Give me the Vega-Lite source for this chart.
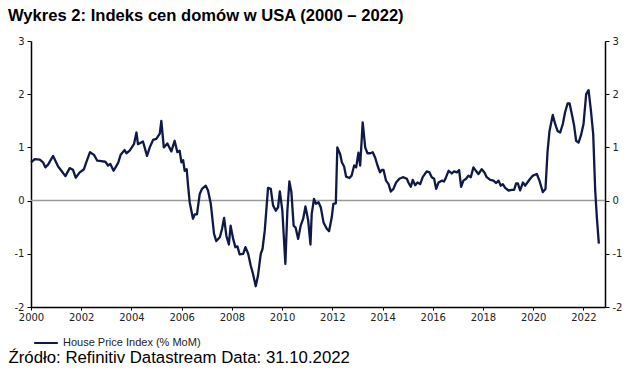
{
  "$schema": "https://vega.github.io/schema/vega-lite/v6.json",
  "width": 574,
  "height": 266,
  "autosize": {"type": "none"},
  "padding": {"left": 31, "top": 41, "right": 35, "bottom": 72},
  "background": "white",
  "config": {"view": {"stroke": null}},
  "title": {
    "text": "Wykres 2: Indeks cen domów w USA (2000 – 2022)",
    "anchor": "start",
    "frame": "group",
    "dx": -23,
    "offset": 11,
    "font": "Liberation Sans",
    "fontSize": 16.6,
    "fontWeight": "bold",
    "color": "#000000"
  },
  "resolve": {"axis": {"y": "independent"}},
  "layer": [
    {
      "data": {"values": [{"z": 0}]},
      "mark": {"type": "rule", "color": "#9a9a9a", "strokeWidth": 1.5},
      "encoding": {
        "y": {
          "field": "z",
          "type": "quantitative",
          "scale": {"domain": [-2, 3], "nice": false, "zero": false},
          "axis": {
            "orient": "right",
            "values": [-2, -1, 0, 1, 2, 3],
            "grid": false,
            "title": null,
            "domainColor": "#000000",
            "domainWidth": 1.5,
            "tickColor": "#000000",
            "tickSize": 4,
            "labelPadding": 3,
            "labelFont": "DejaVu Sans",
            "labelFontSize": 10,
            "labelColor": "#222222",
            "labelExpr": "replace(datum.label, '−', '-')"
          }
        }
      }
    },
    {
      "data": {
        "values": [
          {"year": 2000.00, "value": 0.72},
          {"year": 2000.15, "value": 0.78},
          {"year": 2000.35, "value": 0.77},
          {"year": 2000.48, "value": 0.72},
          {"year": 2000.57, "value": 0.625},
          {"year": 2000.68, "value": 0.675},
          {"year": 2000.88, "value": 0.84},
          {"year": 2001.08, "value": 0.64},
          {"year": 2001.21, "value": 0.56},
          {"year": 2001.37, "value": 0.46},
          {"year": 2001.54, "value": 0.61},
          {"year": 2001.67, "value": 0.58},
          {"year": 2001.78, "value": 0.43},
          {"year": 2001.94, "value": 0.53},
          {"year": 2002.11, "value": 0.59},
          {"year": 2002.20, "value": 0.72},
          {"year": 2002.35, "value": 0.91},
          {"year": 2002.51, "value": 0.86},
          {"year": 2002.64, "value": 0.75},
          {"year": 2002.80, "value": 0.74},
          {"year": 2002.96, "value": 0.73},
          {"year": 2003.07, "value": 0.66},
          {"year": 2003.16, "value": 0.69},
          {"year": 2003.29, "value": 0.56},
          {"year": 2003.47, "value": 0.71},
          {"year": 2003.57, "value": 0.86},
          {"year": 2003.73, "value": 0.95},
          {"year": 2003.80, "value": 0.89},
          {"year": 2003.93, "value": 0.94},
          {"year": 2004.10, "value": 1.06},
          {"year": 2004.20, "value": 1.28},
          {"year": 2004.26, "value": 1.06},
          {"year": 2004.46, "value": 1.11},
          {"year": 2004.62, "value": 0.84},
          {"year": 2004.73, "value": 1.0},
          {"year": 2004.86, "value": 1.14},
          {"year": 2004.99, "value": 1.16},
          {"year": 2005.13, "value": 1.26},
          {"year": 2005.19, "value": 1.5},
          {"year": 2005.29, "value": 1.0},
          {"year": 2005.43, "value": 1.075},
          {"year": 2005.59, "value": 0.925},
          {"year": 2005.72, "value": 1.125},
          {"year": 2005.83, "value": 0.91},
          {"year": 2005.92, "value": 0.94},
          {"year": 2005.99, "value": 0.72},
          {"year": 2006.06, "value": 0.76},
          {"year": 2006.12, "value": 0.56},
          {"year": 2006.20, "value": 0.59},
          {"year": 2006.25, "value": 0.31},
          {"year": 2006.32, "value": -0.03},
          {"year": 2006.45, "value": -0.34},
          {"year": 2006.52, "value": -0.26},
          {"year": 2006.61, "value": -0.26},
          {"year": 2006.72, "value": 0.125},
          {"year": 2006.81, "value": 0.22},
          {"year": 2006.96, "value": 0.28},
          {"year": 2007.05, "value": 0.19},
          {"year": 2007.16, "value": -0.06},
          {"year": 2007.29, "value": -0.625},
          {"year": 2007.38, "value": -0.76},
          {"year": 2007.52, "value": -0.69},
          {"year": 2007.61, "value": -0.53},
          {"year": 2007.69, "value": -0.325},
          {"year": 2007.78, "value": -0.66},
          {"year": 2007.88, "value": -0.825},
          {"year": 2007.95, "value": -0.47},
          {"year": 2008.05, "value": -0.72},
          {"year": 2008.14, "value": -0.875},
          {"year": 2008.22, "value": -0.86},
          {"year": 2008.31, "value": -1.01},
          {"year": 2008.45, "value": -1.0},
          {"year": 2008.54, "value": -0.875},
          {"year": 2008.65, "value": -1.0},
          {"year": 2008.75, "value": -1.22},
          {"year": 2008.84, "value": -1.375},
          {"year": 2008.95, "value": -1.61},
          {"year": 2009.04, "value": -1.41},
          {"year": 2009.15, "value": -1.0},
          {"year": 2009.22, "value": -0.91},
          {"year": 2009.31, "value": -0.56},
          {"year": 2009.44, "value": 0.24},
          {"year": 2009.55, "value": 0.22},
          {"year": 2009.64, "value": -0.09},
          {"year": 2009.75, "value": -0.19},
          {"year": 2009.84, "value": -0.125},
          {"year": 2009.91, "value": 0.175},
          {"year": 2010.01, "value": -0.19},
          {"year": 2010.13, "value": -1.19},
          {"year": 2010.21, "value": -0.19},
          {"year": 2010.29, "value": 0.36},
          {"year": 2010.37, "value": 0.16},
          {"year": 2010.46, "value": -0.47},
          {"year": 2010.54, "value": -0.51},
          {"year": 2010.64, "value": -0.72},
          {"year": 2010.74, "value": -0.47},
          {"year": 2010.84, "value": -0.34},
          {"year": 2010.93, "value": -0.11},
          {"year": 2011.04, "value": -0.375},
          {"year": 2011.13, "value": -0.825},
          {"year": 2011.18, "value": -0.25},
          {"year": 2011.27, "value": 0.03},
          {"year": 2011.35, "value": -0.06},
          {"year": 2011.45, "value": -0.03},
          {"year": 2011.54, "value": -0.125},
          {"year": 2011.65, "value": -0.41},
          {"year": 2011.78, "value": -0.53},
          {"year": 2011.87, "value": -0.575},
          {"year": 2011.98, "value": -0.31},
          {"year": 2012.04, "value": -0.06},
          {"year": 2012.14, "value": -0.05},
          {"year": 2012.20, "value": 1.0},
          {"year": 2012.31, "value": 0.875},
          {"year": 2012.38, "value": 0.72},
          {"year": 2012.47, "value": 0.64},
          {"year": 2012.55, "value": 0.45},
          {"year": 2012.68, "value": 0.425},
          {"year": 2012.77, "value": 0.47},
          {"year": 2012.87, "value": 0.66},
          {"year": 2012.95, "value": 0.625},
          {"year": 2013.04, "value": 0.9},
          {"year": 2013.11, "value": 0.66},
          {"year": 2013.21, "value": 1.47},
          {"year": 2013.31, "value": 1.0},
          {"year": 2013.40, "value": 0.89},
          {"year": 2013.51, "value": 0.89},
          {"year": 2013.61, "value": 0.91},
          {"year": 2013.705, "value": 0.81},
          {"year": 2013.80, "value": 0.66},
          {"year": 2013.90, "value": 0.53},
          {"year": 2013.97, "value": 0.575},
          {"year": 2014.04, "value": 0.575},
          {"year": 2014.14, "value": 0.375},
          {"year": 2014.24, "value": 0.31},
          {"year": 2014.33, "value": 0.17},
          {"year": 2014.435, "value": 0.22},
          {"year": 2014.54, "value": 0.34},
          {"year": 2014.67, "value": 0.41},
          {"year": 2014.81, "value": 0.44},
          {"year": 2014.97, "value": 0.41},
          {"year": 2015.03, "value": 0.34},
          {"year": 2015.125, "value": 0.26},
          {"year": 2015.205, "value": 0.39},
          {"year": 2015.30, "value": 0.29},
          {"year": 2015.39, "value": 0.34},
          {"year": 2015.50, "value": 0.31},
          {"year": 2015.60, "value": 0.44},
          {"year": 2015.76, "value": 0.55},
          {"year": 2015.87, "value": 0.53},
          {"year": 2015.96, "value": 0.44},
          {"year": 2016.055, "value": 0.41},
          {"year": 2016.135, "value": 0.22},
          {"year": 2016.23, "value": 0.34},
          {"year": 2016.36, "value": 0.375},
          {"year": 2016.45, "value": 0.36},
          {"year": 2016.53, "value": 0.44},
          {"year": 2016.63, "value": 0.56},
          {"year": 2016.76, "value": 0.51},
          {"year": 2016.85, "value": 0.55},
          {"year": 2016.96, "value": 0.53},
          {"year": 2017.05, "value": 0.575},
          {"year": 2017.13, "value": 0.26},
          {"year": 2017.22, "value": 0.375},
          {"year": 2017.33, "value": 0.41},
          {"year": 2017.42, "value": 0.47},
          {"year": 2017.515, "value": 0.44},
          {"year": 2017.62, "value": 0.625},
          {"year": 2017.72, "value": 0.56},
          {"year": 2017.82, "value": 0.5},
          {"year": 2017.95, "value": 0.59},
          {"year": 2018.06, "value": 0.53},
          {"year": 2018.15, "value": 0.44},
          {"year": 2018.29, "value": 0.39},
          {"year": 2018.42, "value": 0.375},
          {"year": 2018.525, "value": 0.33},
          {"year": 2018.62, "value": 0.375},
          {"year": 2018.71, "value": 0.28},
          {"year": 2018.79, "value": 0.31},
          {"year": 2018.885, "value": 0.24},
          {"year": 2019.02, "value": 0.19},
          {"year": 2019.15, "value": 0.2},
          {"year": 2019.24, "value": 0.2},
          {"year": 2019.32, "value": 0.325},
          {"year": 2019.39, "value": 0.325},
          {"year": 2019.48, "value": 0.19},
          {"year": 2019.59, "value": 0.34},
          {"year": 2019.68, "value": 0.28},
          {"year": 2019.77, "value": 0.34},
          {"year": 2019.88, "value": 0.41},
          {"year": 2019.99, "value": 0.47},
          {"year": 2020.145, "value": 0.5},
          {"year": 2020.25, "value": 0.375},
          {"year": 2020.32, "value": 0.26},
          {"year": 2020.385, "value": 0.16},
          {"year": 2020.49, "value": 0.22},
          {"year": 2020.57, "value": 0.91},
          {"year": 2020.65, "value": 1.31},
          {"year": 2020.78, "value": 1.61},
          {"year": 2020.875, "value": 1.44},
          {"year": 2020.97, "value": 1.31},
          {"year": 2021.075, "value": 1.28},
          {"year": 2021.18, "value": 1.44},
          {"year": 2021.27, "value": 1.66},
          {"year": 2021.37, "value": 1.825},
          {"year": 2021.45, "value": 1.825},
          {"year": 2021.54, "value": 1.625},
          {"year": 2021.63, "value": 1.41},
          {"year": 2021.71, "value": 1.125},
          {"year": 2021.805, "value": 1.09},
          {"year": 2021.90, "value": 1.22},
          {"year": 2022.005, "value": 1.44},
          {"year": 2022.11, "value": 2.0},
          {"year": 2022.205, "value": 2.075},
          {"year": 2022.30, "value": 1.69},
          {"year": 2022.39, "value": 1.25},
          {"year": 2022.47, "value": 0.19},
          {"year": 2022.535, "value": -0.31},
          {"year": 2022.615, "value": -0.81}
        ]
      },
      "mark": {"type": "line", "strokeWidth": 2.3, "strokeJoin": "round"},
      "encoding": {
        "x": {
          "field": "year",
          "type": "quantitative",
          "scale": {"domain": [2000, 2022.86], "nice": false, "zero": false},
          "axis": {
            "values": [2000, 2002, 2004, 2006, 2008, 2010, 2012, 2014, 2016, 2018, 2020, 2022],
            "format": "d",
            "grid": false,
            "labelFlush": false,
            "domainColor": "#000000",
            "domainWidth": 1.5,
            "tickColor": "#000000",
            "tickSize": 3,
            "labelPadding": 2,
            "labelFont": "DejaVu Sans",
            "labelFontSize": 10,
            "labelColor": "#222222",
            "title": "Źródło: Refinitiv Datastream Data: 31.10.2022",
            "titleFont": "Liberation Sans",
            "titleFontSize": 16.8,
            "titleFontWeight": "normal",
            "titleColor": "#000000",
            "titleAnchor": "start",
            "titleAlign": "left",
            "titleBaseline": "alphabetic",
            "titleX": -23,
            "titleY": 55
          }
        },
        "y": {
          "field": "value",
          "type": "quantitative",
          "scale": {"domain": [-2, 3], "nice": false, "zero": false},
          "axis": {
            "orient": "left",
            "values": [-2, -1, 0, 1, 2, 3],
            "grid": false,
            "title": null,
            "domainColor": "#000000",
            "domainWidth": 1.5,
            "tickColor": "#000000",
            "tickSize": 4,
            "labelPadding": 3,
            "labelFont": "DejaVu Sans",
            "labelFontSize": 10,
            "labelColor": "#222222",
            "labelExpr": "replace(datum.label, '−', '-')"
          }
        },
        "color": {
          "datum": "House Price Index (% MoM)",
          "type": "nominal",
          "scale": {"range": ["#101848"]},
          "legend": {
            "orient": "none",
            "legendX": 2,
            "legendY": 289,
            "title": null,
            "symbolType": "stroke",
            "symbolStrokeWidth": 2,
            "symbolSize": 560,
            "labelFont": "Liberation Sans",
            "labelFontSize": 11,
            "labelColor": "#222222",
            "labelOffset": 4,
            "padding": 0
          }
        }
      }
    }
  ]
}
